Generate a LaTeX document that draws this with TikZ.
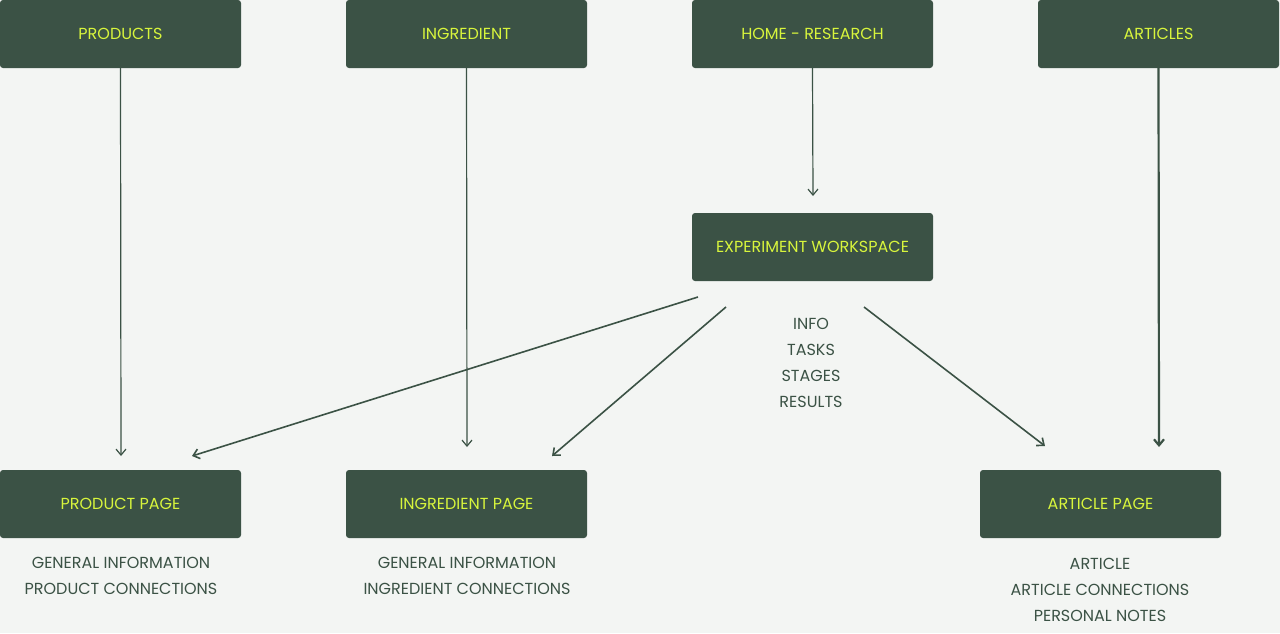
\documentclass[tikz,border=0pt]{standalone}
\usepackage{fontspec}
\setmainfont{Poppins}
\usetikzlibrary{arrows.meta, positioning}
\definecolor{bgc}{HTML}{F3F5F3}
\definecolor{boxc}{HTML}{3B5245}
\definecolor{lime}{HTML}{D8F53C}
\tikzset{
  page/.style={fill=boxc, rounded corners=3pt, minimum width=241pt, minimum height=68pt, text=lime, font=\fontsize{16}{18}\selectfont, inner sep=0pt},
  item/.style={text=boxc, font=\fontsize{16}{18}\selectfont, align=center},
  link/.style={draw=boxc, line width=1.2pt, -{Straight Barb[length=6pt,width=10pt]}}
}
\begin{document}
\begin{tikzpicture}[x=1pt, y=-1pt]
\fill[bgc] (0,0) rectangle (1280,633);
\useasboundingbox (0,0) rectangle (1280,633);
% top row
\node[page] (products) at (120.5,34) {PRODUCTS};
\node[page] (ingr) at (466.5,34) {INGREDIENT};
\node[page] (home) at (812.5,34) {HOME - RESEARCH};
\node[page] (articles) at (1158.5,34) {ARTICLES};
\node[page] (work) at (812.5,247) {EXPERIMENT WORKSPACE};
% bottom row
\node[page] (prodpage) at (120.5,504) {PRODUCT PAGE};
\node[page] (ingrpage) at (466.5,504) {INGREDIENT PAGE};
\node[page] (artpage) at (1100.5,504) {ARTICLE PAGE};
% lists
\node[item] (worklist) at (811,363) {INFO\\[8pt]TASKS\\[8pt]STAGES\\[8pt]RESULTS};
\node[item] (prodlist) at (121,576) {GENERAL INFORMATION\\[8pt]PRODUCT CONNECTIONS};
\node[item] (ingrlist) at (467,576) {GENERAL INFORMATION\\[8pt]INGREDIENT CONNECTIONS};
\node[item] (artlist) at (1100,590) {ARTICLE\\[8pt]ARTICLE CONNECTIONS\\[8pt]PERSONAL NOTES};
% arrow ends
\coordinate (p1) at (121,456);
\coordinate (i1) at (467,447);
\coordinate (h1) at (813,196);
\coordinate (a1) at (1159,447);
\coordinate (w1) at (698,297);
\coordinate (w2) at (726,307);
\coordinate (w3) at (864,307);
\coordinate (p2) at (192,456);
\coordinate (i2) at (552,456);
\coordinate (a2) at (1045,446);
\draw[link] (products.south) -- (p1);
\draw[link] (ingr.south) -- (i1);
\draw[link] (home.south) -- (h1);
\draw[link, line width=2.2pt] (articles.south) -- (a1);
\draw[link, line width=1.6pt] (w1) -- (p2);
\draw[link, line width=1.6pt] (w2) -- (i2);
\draw[link, line width=1.6pt] (w3) -- (a2);
\end{tikzpicture}
\end{document}
